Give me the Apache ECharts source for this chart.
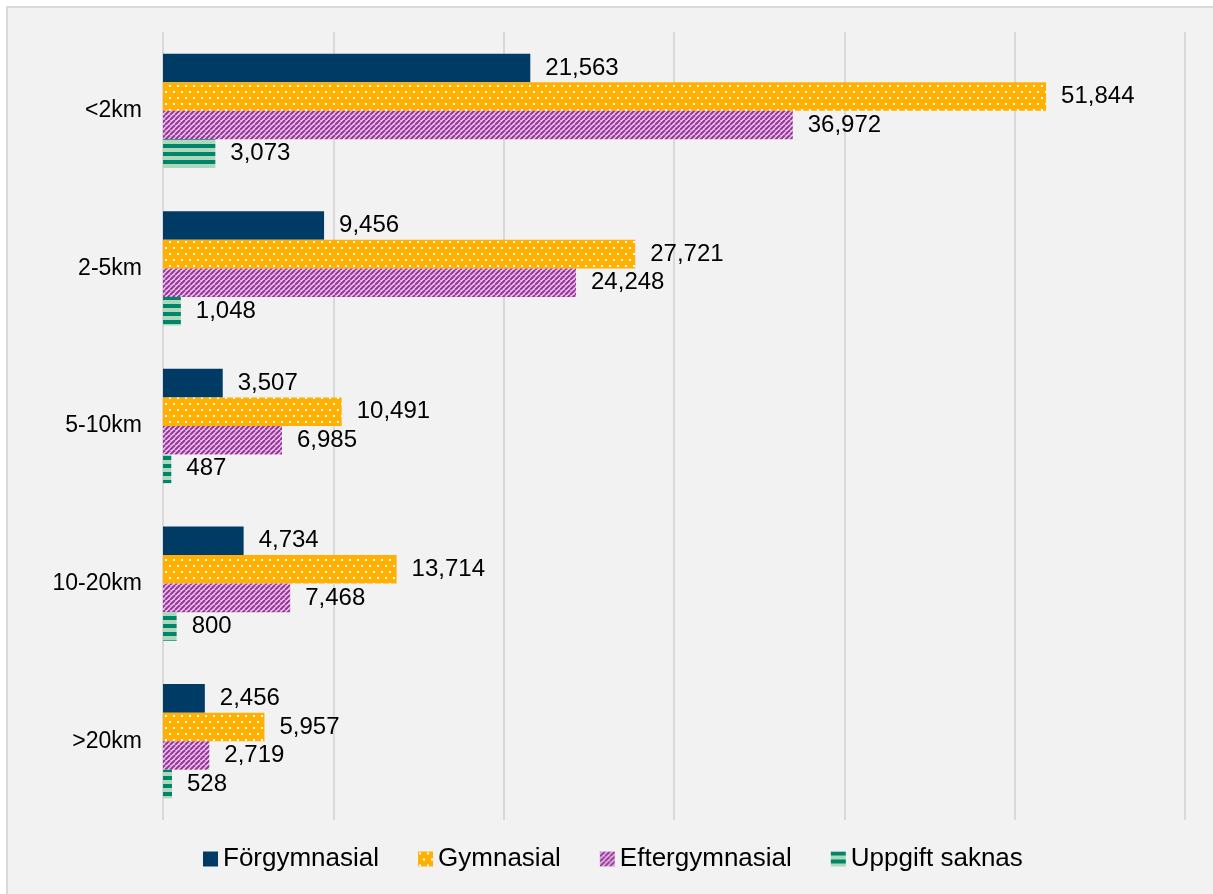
<!DOCTYPE html>
<html>
<head>
<meta charset="utf-8">
<script src="https://cdn.jsdelivr.net/npm/echarts@6/dist/echarts.min.js"></script>
<style>
  html, body { margin: 0; padding: 0; background: #ffffff; }
  #frame {
    position: absolute; left: 6px; top: 6px; width: 1213px; height: 894px;
    background: #f2f2f2; border-left: 2px solid #d9d9d9; border-top: 2px solid #d9d9d9;
    box-sizing: border-box;
  }
  #main { position: absolute; left: 0; top: 0; width: 1213px; height: 894px; }
</style>
</head>
<body>
<div id="frame"></div>
<div id="main"></div>
<script>
// data
const categories = ["<2km", "2-5km", "5-10km", "10-20km", ">20km"];
const forgymnasial = [21563, 9456, 3507, 4734, 2456];
const gymnasial = [51844, 27721, 10491, 13714, 5957];
const eftergymnasial = [36972, 24248, 6985, 7468, 2719];
const uppgiftSaknas = [3073, 1048, 487, 800, 528];

// fill patterns
function makePattern(w, h, draw) {
  const c = document.createElement("canvas");
  c.width = w;
  c.height = h;
  draw(c.getContext("2d"));
  return { image: c, repeat: "repeat" };
}

const dotted = makePattern(8, 12, ctx => {
  ctx.fillStyle = "#ffb000";
  ctx.fillRect(0, 0, 8, 12);
  ctx.fillStyle = "#ffffff";
  ctx.fillRect(1, 1, 2, 2);
  ctx.fillRect(5, 7, 2, 2);
});

const hatched = makePattern(5, 5, ctx => {
  ctx.fillStyle = "#ebc6eb";
  ctx.fillRect(0, 0, 5, 5);
  ctx.strokeStyle = "#98359a";
  ctx.lineWidth = 2;
  for (let k = -5; k <= 10; k += 5) {
    ctx.beginPath();
    ctx.moveTo(k, 5);
    ctx.lineTo(k + 5, 0);
    ctx.stroke();
  }
});

const striped = makePattern(6, 8, ctx => {
  ctx.fillStyle = "#acd8bc";
  ctx.fillRect(0, 0, 6, 8);
  ctx.fillStyle = "#00856a";
  ctx.fillRect(0, 0, 6, 4);
});

let myChart = echarts.init(document.getElementById("main"));

const labelStyle = {
  show: true,
  position: "right",
  distance: 15,
  color: "#000",
  fontSize: 24,
  fontFamily: "Liberation Sans, Arial, sans-serif",
  formatter: p => p.value.toLocaleString("en-US")
};

function barSeries(name, data, color) {
  return {
    name: name,
    type: "bar",
    data: data,
    barGap: "0%",
    barCategoryGap: "27.5%",
    itemStyle: { color: color },
    label: labelStyle
  };
}

let option = {
  backgroundColor: "transparent",
  animation: false,
  textStyle: { fontFamily: "Liberation Sans, Arial, sans-serif" },
  grid: {
    left: 163,
    right: 28,
    top: 32,
    bottom: 74
  },
  legend: {
    bottom: 17,
    left: 198,
    itemWidth: 15,
    itemHeight: 15,
    itemGap: 39,
    icon: "rect",
    textStyle: { fontSize: 26, color: "#000" },
    data: ["Förgymnasial", "Gymnasial", "Eftergymnasial", "Uppgift saknas"]
  },
  xAxis: {
    type: "value",
    min: 0,
    max: 60000,
    interval: 10000,
    axisLabel: { show: false },
    axisLine: { show: false },
    axisTick: { show: false },
    splitLine: { lineStyle: { color: "#d9d9d9", width: 2 } }
  },
  yAxis: {
    type: "category",
    inverse: true,
    data: categories,
    axisTick: { show: false },
    axisLine: { show: false },
    axisLabel: { fontSize: 23, color: "#000", margin: 21 }
  },
  series: [
    barSeries("Förgymnasial", forgymnasial, "#003b66"),
    barSeries("Gymnasial", gymnasial, dotted),
    barSeries("Eftergymnasial", eftergymnasial, hatched),
    barSeries("Uppgift saknas", uppgiftSaknas, striped)
  ]
};

myChart.setOption(option);
</script>
</body>
</html>
